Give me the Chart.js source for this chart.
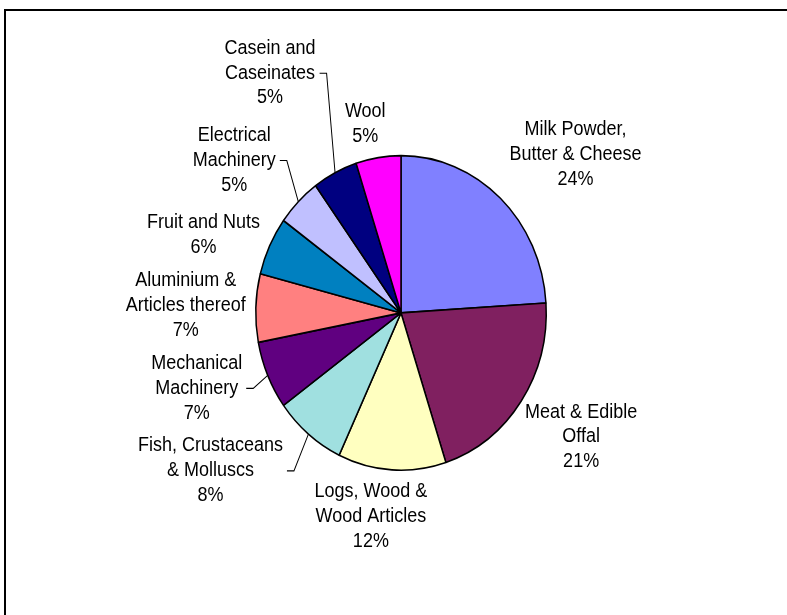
<!DOCTYPE html>
<html>
<head>
<meta charset="utf-8">
<script src="https://cdn.jsdelivr.net/npm/chart.js@4/dist/chart.umd.min.js"></script>
<style>
  html, body { margin:0; padding:0; background:#fff; overflow:hidden; }
  #frame { position:absolute; left:4px; top:9px; width:1000px; height:1000px; border:2px solid #000; }
  #chart { position:absolute; left:0; top:0; }
</style>
</head>
<body>
<div id="frame"></div>
<canvas id="chart" width="787" height="615"></canvas>
<script>
// data
const categories = [
  ['Milk Powder,', 'Butter & Cheese'],
  ['Meat & Edible', 'Offal'],
  ['Logs, Wood &', 'Wood Articles'],
  ['Fish, Crustaceans', '& Molluscs'],
  ['Mechanical', 'Machinery'],
  ['Aluminium &', 'Articles thereof'],
  ['Fruit and Nuts'],
  ['Electrical', 'Machinery'],
  ['Casein and', 'Caseinates'],
  ['Wool']
];
const shares = [24, 21, 12, 8, 7, 7, 6, 5, 5, 5];
const sliceColors = ['#8080FF', '#802060', '#FFFFC0', '#A0E0E0', '#600080',
                     '#FF8080', '#0080C0', '#C0C0FF', '#000080', '#FF00FF'];

// label layout (offset from the slice's outer mid point) and leader lines
const labelShift = [[75,-40],[60,33],[-21,43],[-98,34],[-71,12],[-70,-2],[-66,-10],[-64,-38],[-65,-92],[-13,-31]];
const hasLeader = [false,false,false,true,true,false,false,true,true,false];

const S = 615 / 568;   // the original picture is stretched vertically
const LINE_H = 23;

const sliceLabels = {
  id: 'sliceLabels',
  beforeDatasetsDraw(chart){ chart.ctx.save(); chart.ctx.scale(1, S); },
  afterDatasetsDraw(chart){ chart.ctx.restore(); },
  afterDraw(chart){
    const ctx = chart.ctx;
    const arcs = chart.getDatasetMeta(0).data;
    const total = shares.reduce((a,b)=>a+b, 0);
    ctx.save();
    ctx.scale(1, S);
    ctx.font = '18px "Liberation Sans", Arial, sans-serif';
    ctx.fillStyle = '#000';
    ctx.strokeStyle = '#000';
    ctx.lineWidth = 1;
    ctx.textAlign = 'center';
    ctx.textBaseline = 'middle';
    arcs.forEach((arc, i)=>{
      const mid = (arc.startAngle + arc.endAngle) / 2;
      const ax = arc.x + Math.cos(mid) * arc.outerRadius;
      const ay = arc.y + Math.sin(mid) * arc.outerRadius;
      const cx = ax + labelShift[i][0];
      const cy = ay + labelShift[i][1];
      const lines = [...categories[i], Math.round(shares[i] / total * 100) + '%'];
      const n = lines.length;
      lines.forEach((t, k)=> ctx.fillText(t, cx, cy + (k - (n-1)/2) * LINE_H));
      if(hasLeader[i]){
        const maxW = Math.max(...lines.map(t=>ctx.measureText(t).width));
        const x0 = cx + maxW/2 + 4;
        ctx.beginPath();
        ctx.moveTo(x0, cy);
        ctx.lineTo(x0 + 7, cy);
        ctx.lineTo(ax, ay);
        ctx.stroke();
      }
    });
    ctx.restore();
  }
};

new Chart(document.getElementById('chart'), {
  type: 'pie',
  data: {
    labels: categories.map(c=>c.join(' ')),
    datasets: [{
      data: shares,
      backgroundColor: sliceColors,
      borderColor: '#000',
      borderWidth: 1.5
    }]
  },
  options: {
    responsive: false,
    animation: false,
    devicePixelRatio: 1,
    layout: { padding: { left: 255, right: 240, top: 143, bottom: 180 } },
    plugins: { legend: { display: false }, tooltip: { enabled: false } }
  },
  plugins: [sliceLabels]
});
</script>
</body>
</html>
